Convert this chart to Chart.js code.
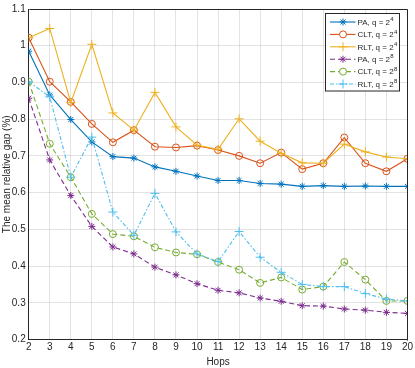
<!DOCTYPE html>
<html>
<head>
<meta charset="utf-8">
<script src="https://cdn.jsdelivr.net/npm/chart.js@4.4.0/dist/chart.umd.min.js"></script>
<style>
    html, body { margin: 0; padding: 0; background: #ffffff; }
    #wrap { width: 415px; height: 368px; position: relative; }
</style>
</head>
<body>
<div id="wrap"><canvas id="gap-chart"></canvas></div>
<script>
// Values
const hops = [2, 3, 4, 5, 6, 7, 8, 9, 10, 11, 12, 13, 14, 15, 16, 17, 18, 19, 20];
const paQ4 = [0.985, 0.866, 0.799, 0.738, 0.698, 0.694, 0.670, 0.658, 0.645, 0.633, 0.633, 0.625, 0.623, 0.617, 0.619, 0.617, 0.618, 0.617, 0.617];
const cltQ4 = [1.022, 0.902, 0.847, 0.787, 0.737, 0.770, 0.725, 0.723, 0.728, 0.716, 0.700, 0.680, 0.709, 0.664, 0.680, 0.750, 0.680, 0.658, 0.692];
const rltQ4 = [1.022, 1.047, 0.845, 1.004, 0.817, 0.770, 0.873, 0.779, 0.729, 0.718, 0.801, 0.740, 0.707, 0.681, 0.680, 0.732, 0.711, 0.697, 0.692];
const paQ8 = [0.857, 0.689, 0.592, 0.508, 0.452, 0.433, 0.397, 0.376, 0.352, 0.334, 0.327, 0.313, 0.304, 0.292, 0.291, 0.283, 0.280, 0.274, 0.271];
const cltQ8 = [0.902, 0.733, 0.642, 0.542, 0.487, 0.481, 0.451, 0.437, 0.432, 0.411, 0.390, 0.354, 0.369, 0.336, 0.344, 0.411, 0.363, 0.305, 0.305];
const rltQ8 = [0.902, 0.861, 0.642, 0.751, 0.547, 0.484, 0.598, 0.493, 0.433, 0.412, 0.494, 0.424, 0.383, 0.350, 0.344, 0.344, 0.325, 0.310, 0.305];
const seriesNames = ['PA, q = 2', 'CLT, q = 2', 'RLT, q = 2', 'PA, q = 2', 'CLT, q = 2', 'RLT, q = 2'];
const seriesExp = ['4', '4', '4', '8', '8', '8'];

const textColor = '#262626';
const fontFamily = '"Liberation Sans", Arial, Helvetica, sans-serif';

function makeSet(i, values, color, marker, dash) {
    return {
        label: seriesNames[i] + seriesExp[i],
        data: hops.map((h, k) => ({ x: h, y: values[k] })),
        borderColor: color,
        backgroundColor: 'rgba(0,0,0,0)',
        pointBorderColor: color,
        pointBackgroundColor: 'rgba(0,0,0,0)',
        pointStyle: marker,
        pointRadius: marker === 'cross' ? 4.5 : 3.5,
        pointBorderWidth: 1,
        borderWidth: 1.1,
        borderDash: dash,
        tension: 0,
        order: 6 - i
    };
}

const datasets = [
    makeSet(0, paQ4, '#0072BD', 'star', []),
    makeSet(1, cltQ4, '#D95319', 'circle', []),
    makeSet(2, rltQ4, '#EDB120', 'cross', []),
    makeSet(3, paQ8, '#7E2F8E', 'star', [5, 3]),
    makeSet(4, cltQ8, '#77AC30', 'circle', [5, 3]),
    makeSet(5, rltQ8, '#4DBEEE', 'cross', [4, 2, 1.5, 2])
];

// box around the axes plus the in-plot legend, MATLAB style
const boxAndLegend = {
    id: 'boxAndLegend',
    afterDraw(chart) {
        const ctx = chart.ctx;
        const a = chart.chartArea;
        ctx.save();
        ctx.strokeStyle = textColor;
        ctx.lineWidth = 1;
        ctx.setLineDash([]);
        ctx.beginPath();
        ctx.moveTo(Math.round(a.left) + 0.5, Math.round(a.top) + 0.5);
        ctx.lineTo(Math.round(a.right) + 0.5, Math.round(a.top) + 0.5);
        ctx.lineTo(Math.round(a.right) + 0.5, Math.round(a.bottom) + 0.5);
        ctx.stroke();

        // legend
        const lx = 325.5, ly = 13.5, lw = 74, lh = 77.5;
        ctx.fillStyle = '#ffffff';
        ctx.fillRect(lx, ly, lw, lh);
        ctx.strokeStyle = '#262626';
        ctx.strokeRect(lx, ly, lw, lh);
        datasets.forEach((ds, i) => {
            const y = 22 + i * 12.4;
            ctx.strokeStyle = ds.borderColor;
            ctx.lineWidth = ds.borderWidth;
            ctx.setLineDash(ds.borderDash);
            ctx.beginPath();
            ctx.moveTo(330, y);
            ctx.lineTo(355.5, y);
            ctx.stroke();
            ctx.setLineDash([]);
            ctx.lineWidth = 1;
            ctx.fillStyle = '#ffffff';
            Chart.helpers.drawPoint(ctx, {
                pointStyle: ds.pointStyle,
                radius: ds.pointRadius,
                borderWidth: 1,
                rotation: 0
            }, 343, y);
            ctx.fillStyle = textColor;
            ctx.textBaseline = 'middle';
            ctx.textAlign = 'left';
            ctx.font = '8px ' + fontFamily;
            ctx.fillText(seriesNames[i], 357.5, y + 0.5);
            const w = ctx.measureText(seriesNames[i]).width;
            ctx.font = '6px ' + fontFamily;
            ctx.fillText(seriesExp[i], 357.5 + w + 0.3, y - 2.5);
        });
        ctx.restore();
    }
};

new Chart(document.getElementById('gap-chart'), {
    type: 'line',
    data: { datasets: datasets },
    options: {
        responsive: true,
        maintainAspectRatio: false,
        animation: false,
        layout: { padding: { top: 6, right: 7, left: 0, bottom: 0 } },
        plugins: {
            legend: { display: false },
            tooltip: { enabled: false }
        },
        scales: {
            x: {
                type: 'linear',
                min: 2,
                max: 20,
                ticks: {
                    stepSize: 1,
                    color: textColor,
                    font: { family: fontFamily, size: 10 },
                    padding: 2,
                    maxRotation: 0
                },
                grid: { color: 'rgba(38,38,38,0.13)', tickLength: 0 },
                border: { color: textColor },
                title: {
                    display: true,
                    text: 'Hops',
                    color: textColor,
                    font: { family: fontFamily, size: 10 },
                    padding: { top: 1, bottom: 0 }
                },
                afterFit: function(scale) { scale.height = 28.5; }
            },
            y: {
                min: 0.2,
                max: 1.1,
                ticks: {
                    stepSize: 0.1,
                    color: textColor,
                    font: { family: fontFamily, size: 10 },
                    padding: 3,
                    callback: v => String(Number(v.toFixed(1)))
                },
                grid: { color: 'rgba(38,38,38,0.13)', tickLength: 0 },
                border: { color: textColor },
                title: {
                    display: true,
                    text: 'The mean relative gap (%)',
                    color: textColor,
                    font: { family: fontFamily, size: 10 },
                    padding: { top: 1, bottom: 0 }
                },
                afterFit: function(scale) { scale.width = 28.7; }
            }
        }
    },
    plugins: [boxAndLegend]
});
</script>
</body>
</html>
